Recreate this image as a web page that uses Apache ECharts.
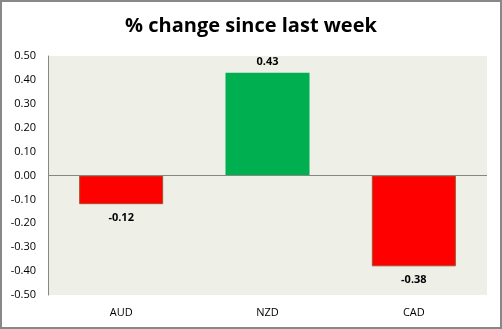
<!DOCTYPE html>
<html>
<head>
<meta charset="utf-8">
<script src="https://cdn.jsdelivr.net/npm/echarts@6/dist/echarts.min.js"></script>
<style>
html,body{margin:0;padding:0;background:#fff;}
#chart{width:502px;height:329px;}
</style>
</head>
<body>
<div id="chart"></div>
<script>
const categories = ['AUD', 'NZD', 'CAD'];
const values = [-0.12, 0.43, -0.38];
const yTicks = { min: -0.5, max: 0.5, interval: 0.1 };
const titleText = '% change since last week';

const chart = echarts.init(document.getElementById('chart'), null, { renderer: 'canvas' });
const font = 'Open Sans';
chart.setOption({
  animation: false,
  backgroundColor: '#fff',
  title: {
    text: titleText,
    left: 'center',
    top: 11,
    textStyle: { fontFamily: font, fontWeight: 'bold', fontSize: 20, color: '#000' }
  },
  graphic: [{
    type: 'rect',
    shape: { x: 1, y: 1, width: 500, height: 327 },
    style: { fill: 'none', stroke: '#888', lineWidth: 2 },
    silent: true
  }],
  grid: {
    left: 48, right: 15, top: 56, bottom: 34,
    show: true, backgroundColor: '#EEF0E8', borderWidth: 0
  },
  xAxis: {
    type: 'category',
    data: categories,
    axisLine: { show: false, onZero: false },
    axisTick: { show: false },
    axisLabel: { margin: 12, fontFamily: font, fontSize: 11, color: '#000' }
  },
  yAxis: {
    type: 'value',
    min: yTicks.min, max: yTicks.max, interval: yTicks.interval,
    axisLine: { show: true, lineStyle: { color: '#868686', width: 1 } },
    axisTick: { show: false },
    splitLine: { show: false },
    axisLabel: {
      margin: 12, fontFamily: font, fontSize: 11, color: '#000',
      formatter: v => v.toFixed(2)
    }
  },
  series: [{
    type: 'bar',
    barWidth: 84,
    data: values.map(v => ({
      value: v,
      itemStyle: v < 0
        ? { color: '#FF0000', borderColor: '#A0522D', borderWidth: 1 }
        : { color: '#00B050' },
      label: {
        show: true,
        position: v < 0 ? 'bottom' : 'top',
        distance: v < 0 ? 8 : 5
      }
    })),
    label: {
      fontFamily: font, fontSize: 11, fontWeight: 'bold', color: '#000',
      formatter: p => p.value.toFixed(2)
    },
    markLine: {
      silent: true,
      symbol: 'none',
      label: { show: false },
      lineStyle: { color: '#868686', width: 1, type: 'solid' },
      data: [{ yAxis: 0 }]
    }
  }]
});
</script>
</body>
</html>
